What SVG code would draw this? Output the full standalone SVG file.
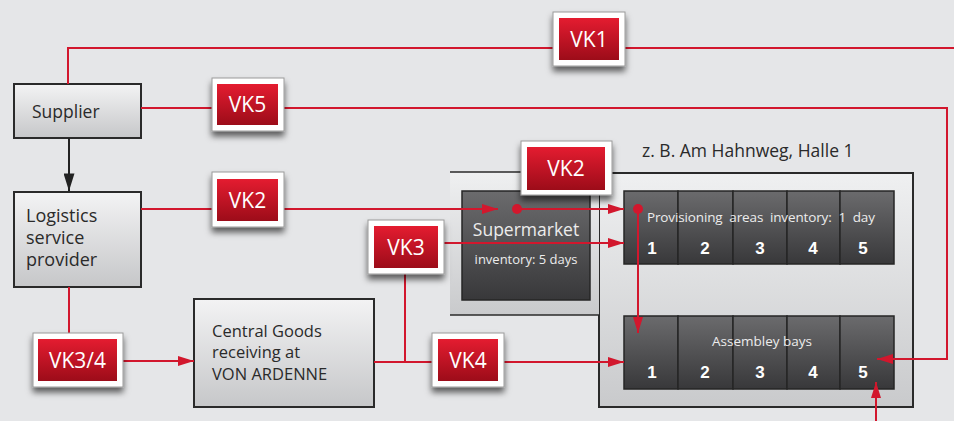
<svg xmlns="http://www.w3.org/2000/svg" width="954" height="421" viewBox="0 0 954 421">
<defs>
<linearGradient id="gBox" x1="0" y1="0" x2="0" y2="1"><stop offset="0" stop-color="#f3f3f4"/><stop offset="1" stop-color="#c6c7c9"/></linearGradient>
<linearGradient id="gHall" x1="0" y1="0" x2="0" y2="1"><stop offset="0" stop-color="#eff0f1"/><stop offset="1" stop-color="#c9cacc"/></linearGradient>
<linearGradient id="gDark" x1="0" y1="0" x2="0" y2="1"><stop offset="0" stop-color="#6b6b6d"/><stop offset="1" stop-color="#38383a"/></linearGradient>
<linearGradient id="gRed" x1="0" y1="0" x2="0" y2="1"><stop offset="0" stop-color="#e41c30"/><stop offset="1" stop-color="#9c0c19"/></linearGradient>
<filter id="sh" x="-20%" y="-20%" width="140%" height="160%"><feDropShadow dx="0" dy="5" stdDeviation="3" flood-color="#000" flood-opacity="0.6"/></filter>
<marker id="ar" viewBox="0 0 16 10" refX="16" refY="5" markerWidth="16" markerHeight="10" markerUnits="userSpaceOnUse" orient="auto"><path d="M0,0 L16,5 L0,10 z" fill="#d2172d"/></marker>
<marker id="ak" viewBox="0 0 16 10" refX="16" refY="5" markerWidth="18" markerHeight="11" markerUnits="userSpaceOnUse" orient="auto"><path d="M0,0 L16,5 L0,10 z" fill="#222"/></marker>
</defs>
<style>
.box{fill:url(#gBox);stroke:#2a2a2a;stroke-width:2}
.cell{fill:url(#gDark);stroke:#262626;stroke-width:1.5}
.t{font-family:"Open Sans","Liberation Sans",sans-serif;fill:#2a2a2a}
.w{font-family:"Open Sans","Liberation Sans",sans-serif;fill:#ececec}
.n{font-family:"Liberation Sans",Arial,sans-serif;font-weight:bold;font-size:17px;fill:#fff;text-anchor:middle}
.bo{fill:#fff;stroke:#9a9a9a;stroke-width:1;filter:url(#sh)}
.bi{fill:url(#gRed)}
.bt{font-family:"Open Sans","Liberation Sans",sans-serif;font-size:21px;fill:#fff;text-anchor:middle}
.r{fill:none;stroke:#d2172d;stroke-width:2}
</style>
<rect width="954" height="421" fill="#e5e6e8"/>

<g id="hall">
<rect x="599" y="173" width="314" height="234" fill="url(#gHall)" stroke="#2a2a2a" stroke-width="2"/>
<text class="t" x="642" y="157" font-size="17.5">z. B. Am Hahnweg, Halle 1</text>
</g>
<g id="supermarket-area">
<rect x="450" y="172" width="149" height="143" fill="url(#gHall)"/>
<line x1="450" y1="172" x2="599" y2="172" stroke="#2a2a2a" stroke-width="1.5"/>
<line x1="450" y1="315" x2="599" y2="315" stroke="#2a2a2a" stroke-width="1.5"/>
</g>
<g id="supermarket">
<rect x="462" y="191" width="128" height="109" class="cell"/>
<text class="w" x="526" y="236" font-size="17.5" text-anchor="middle">Supermarket</text>
<text class="w" x="526" y="264" font-size="13" text-anchor="middle">inventory: 5 days</text>
</g>
<g id="provisioning">
<rect x="624" y="191" width="54" height="73" class="cell"/>
<rect x="678" y="191" width="55" height="73" class="cell"/>
<rect x="733" y="191" width="54" height="73" class="cell"/>
<rect x="787" y="191" width="53" height="73" class="cell"/>
<rect x="840" y="191" width="54" height="73" class="cell"/>
<text class="w" x="647" y="222" font-size="13.5" xml:space="preserve" style="white-space:pre" textLength="228" lengthAdjust="spacing">Provisioning  areas  inventory:  1  day</text>
<text class="n" x="652" y="254">1</text><text class="n" x="705" y="254">2</text><text class="n" x="760" y="254">3</text><text class="n" x="813" y="254">4</text><text class="n" x="863" y="254">5</text>
</g>
<g id="assembly">
<rect x="624" y="316" width="54" height="73" class="cell"/>
<rect x="678" y="316" width="55" height="73" class="cell"/>
<rect x="733" y="316" width="54" height="73" class="cell"/>
<rect x="787" y="316" width="53" height="73" class="cell"/>
<rect x="840" y="316" width="54" height="73" class="cell"/>
<text class="w" x="762" y="346" font-size="13.5" text-anchor="middle">Assembley bays</text>
<text class="n" x="652" y="378">1</text><text class="n" x="705" y="378">2</text><text class="n" x="760" y="378">3</text><text class="n" x="813" y="378">4</text><text class="n" x="863" y="378">5</text>
</g>

<g id="supplier">
<rect class="box" x="14" y="84" width="127" height="54"/>
<text class="t" x="32" y="118" font-size="17.5">Supplier</text>
</g>
<g id="logistics">
<rect class="box" x="14" y="192" width="127" height="95"/>
<text class="t" x="26" y="222" font-size="18">Logistics</text>
<text class="t" x="26" y="244" font-size="18">service</text>
<text class="t" x="26" y="266" font-size="18">provider</text>
</g>
<g id="central">
<rect class="box" x="194" y="299" width="180" height="108"/>
<text class="t" x="212" y="337" font-size="16.5">Central Goods</text>
<text class="t" x="212" y="358" font-size="16.5">receiving at</text>
<text class="t" x="212" y="380" font-size="16.5">VON ARDENNE</text>
</g>

<g id="connectors">
<path class="r" d="M68,84 V48 H954"/>
<path class="r" d="M141,108 H947 V359 H877" marker-end="url(#ar)"/>
<path d="M69,138 V191" fill="none" stroke="#222" stroke-width="2" marker-end="url(#ak)"/>
<path class="r" d="M141,209 H498" marker-end="url(#ar)"/>
<path class="r" d="M517,209 H624" marker-end="url(#ar)"/>
<circle cx="517" cy="209" r="5" fill="#d2172d"/>
<path class="r" d="M638,209 V333" marker-end="url(#ar)"/>
<circle cx="638" cy="209" r="5" fill="#d2172d"/>
<path class="r" d="M444,243 H624" marker-end="url(#ar)"/>
<path class="r" d="M405,274 V362"/>
<path class="r" d="M69,287 V333"/>
<path class="r" d="M123,361 H194" marker-end="url(#ar)"/>
<path class="r" d="M374,362 H624" marker-end="url(#ar)"/>
<path class="r" d="M876,421 V382" marker-end="url(#ar)"/>
</g>

<g id="vk1"><rect class="bo" x="553" y="12" width="72" height="54"/><rect class="bi" x="559" y="18" width="60" height="42"/><text class="bt" x="589" y="47">VK1</text></g>
<g id="vk5"><rect class="bo" x="212" y="78" width="72" height="53"/><rect class="bi" x="217" y="84" width="61" height="41"/><text class="bt" x="247.5" y="112">VK5</text></g>
<g id="vk2a"><rect class="bo" x="212" y="172" width="72" height="55"/><rect class="bi" x="217" y="179" width="61" height="42"/><text class="bt" x="247.5" y="208">VK2</text></g>
<g id="vk2b"><rect class="bo" x="521" y="141" width="91" height="54"/><rect class="bi" x="527" y="147" width="78" height="43"/><text class="bt" x="566" y="176">VK2</text></g>
<g id="vk3"><rect class="bo" x="368" y="220" width="76" height="54"/><rect class="bi" x="374" y="226" width="64" height="42"/><text class="bt" x="406" y="255">VK3</text></g>
<g id="vk34"><rect class="bo" x="33" y="333" width="90" height="54"/><rect class="bi" x="38" y="339" width="79" height="42"/><text class="bt" x="77.5" y="368">VK3/4</text></g>
<g id="vk4"><rect class="bo" x="432" y="333" width="72" height="54"/><rect class="bi" x="438" y="339" width="60" height="42"/><text class="bt" x="468" y="368">VK4</text></g>
</svg>
